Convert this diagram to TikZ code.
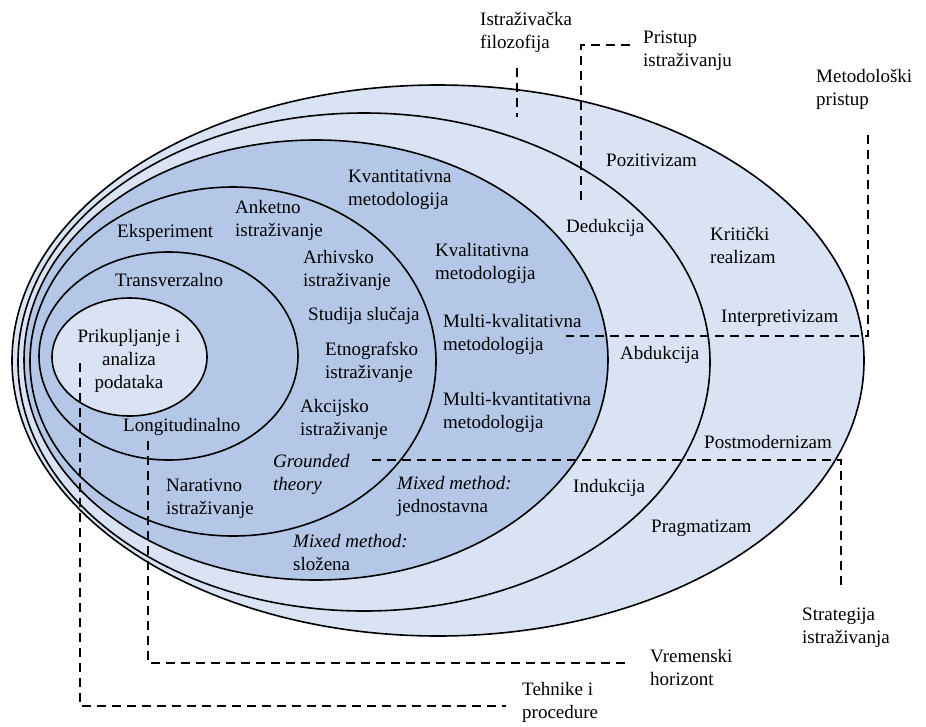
\documentclass[tikz,border=0pt]{standalone}
\usepackage{fontspec}
\setmainfont{Liberation Serif}
\definecolor{lightb}{HTML}{DAE3F3}
\definecolor{darkb}{HTML}{B4C7E7}
\begin{document}
\begin{tikzpicture}[x=1pt,y=-1pt,
  ring/.style={draw=black, line width=1.6pt},
  lbl/.style={inner sep=0pt, anchor=west, align=left, font=\fontsize{19}{23}\selectfont},
  clbl/.style={inner sep=0pt, align=center, font=\fontsize{19}{23}\selectfont},
  guide/.style={draw=black, line width=1.6pt, dash pattern=on 9pt off 6pt}]
\useasboundingbox[fill=white] (0,0) rectangle (926,726);

% rings
\filldraw[ring, fill=lightb] (438,360.5) ellipse [x radius=426, y radius=275.5];
\filldraw[ring, fill=lightb] (364,362) ellipse [x radius=346, y radius=249];
\filldraw[ring, fill=darkb] (316,360) ellipse [x radius=292, y radius=220];
\filldraw[ring, fill=darkb] (233,361.5) ellipse [x radius=203, y radius=174.5];
\filldraw[ring, fill=darkb] (168.5,356) ellipse [x radius=129.5, y radius=104];
\filldraw[ring, fill=lightb] (129.5,357) ellipse [x radius=77.5, y radius=59];

% guide coordinates
\coordinate (fA) at (517,68);  \coordinate (fB) at (517,117);
\coordinate (pA) at (630,45);  \coordinate (pC) at (581,45);  \coordinate (pB) at (581,202);
\coordinate (mA) at (868,135); \coordinate (mC) at (868,336); \coordinate (mB) at (566,336);
\coordinate (sA) at (372,460); \coordinate (sC) at (841,460); \coordinate (sB) at (841,590);
\coordinate (vA) at (148,441); \coordinate (vC) at (148,663); \coordinate (vB) at (630,663);
\coordinate (tA) at (80,363);  \coordinate (tC) at (80,706);  \coordinate (tB) at (506,706);

\draw[guide] (fA) -- (fB);
\draw[guide] (pA) -- (pC) -- (pB);
\draw[guide] (mA) -- (mC) -- (mB);
\draw[guide] (sA) -- (sC) -- (sB);
\draw[guide] (vA) -- (vC) -- (vB);
\draw[guide] (tA) -- (tC) -- (tB);

% outer labels
\node[lbl] (filo) at (480,32.5) {Istraživačka\\filozofija};
\node[lbl] (pris) at (643,50.5) {Pristup\\istraživanju};
\node[lbl] (meto) at (816,89.5) {Metodološki\\pristup};
\node[lbl] (stra) at (802,627.5) {Strategija\\istraživanja};
\node[lbl] (vrem) at (650,667.5) {Vremenski\\horizont};
\node[lbl] (tehn) at (522,702.5) {Tehnike i\\procedure};

% philosophy
\node[lbl] (poz) at (606,160) {Pozitivizam};
\node[lbl] (kri) at (710,245) {Kritički\\realizam};
\node[lbl] (int) at (721,318) {Interpretivizam};
\node[lbl] (pos) at (704,442) {Postmodernizam};
\node[lbl] (pra) at (651,528) {Pragmatizam};

% approach
\node[lbl] (ded) at (566,228) {Dedukcija};
\node[lbl] (abd) at (620,355) {Abdukcija};
\node[lbl] (ind) at (573,488) {Indukcija};

% methodological choice
\node[lbl] (kvan) at (348,189.5) {Kvantitativna\\metodologija};
\node[lbl] (kval) at (435,263.5) {Kvalitativna\\metodologija};
\node[lbl] (mkval) at (443,334) {Multi-kvalitativna\\metodologija};
\node[lbl] (mkvan) at (443,412) {Multi-kvantitativna\\metodologija};
\node[lbl] (mmj) at (397,496.5) {\textit{Mixed method:}\\jednostavna};
\node[lbl] (mms) at (293,552.5) {\textit{Mixed method:}\\složena};

% strategies
\node[lbl] (eks) at (117,233) {Eksperiment};
\node[lbl] (ank) at (235,220.5) {Anketno\\istraživanje};
\node[lbl] (arh) at (303,270.5) {Arhivsko\\istraživanje};
\node[lbl] (stu) at (308,316) {Studija slučaja};
\node[lbl] (etn) at (325,362.5) {Etnografsko\\istraživanje};
\node[lbl] (akc) at (300,419.5) {Akcijsko\\istraživanje};
\node[lbl] (gro) at (273,474) {\textit{Grounded}\\\textit{theory}};
\node[lbl] (nar) at (166,498.5) {Narativno\\istraživanje};

% time horizon
\node[lbl] (tra) at (115,280) {Transverzalno};
\node[lbl] (lon) at (123,427) {Longitudinalno};

% core
\node[clbl] (pri) at (129,360.5) {Prikupljanje i\\analiza\\podataka};
\end{tikzpicture}
\end{document}
